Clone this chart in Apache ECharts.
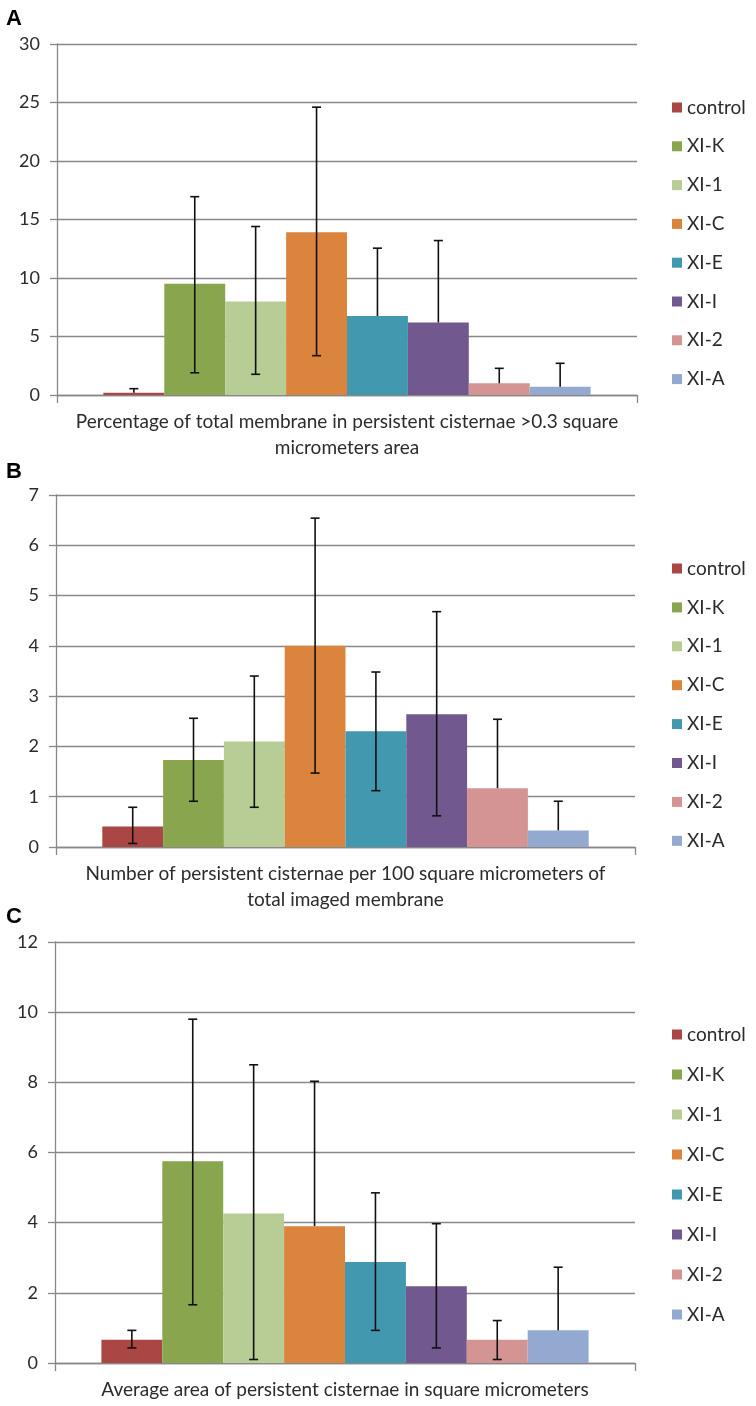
<!DOCTYPE html>
<html>
<head>
<meta charset="utf-8">
<script src="https://cdn.jsdelivr.net/npm/echarts@6/dist/echarts.min.js"></script>
<style>
  html, body { margin: 0; padding: 0; background: #fff; }
  #chart { width: 756px; height: 1406px; }
</style>
</head>
<body>
<div id="chart"></div>
<script>
// ---------------- data ----------------
const groups = ['control', 'XI-K', 'XI-1', 'XI-C', 'XI-E', 'XI-I', 'XI-2', 'XI-A'];

const categoriesA = ['Percentage of total membrane in persistent cisternae >0.3 square\nmicrometers area'];
const valuesA  = [0.2, 9.5, 8.0, 13.9, 6.75, 6.2, 1.0, 0.71];
const errHighA = [0.54, 16.95, 14.4, 24.6, 12.55, 13.2, 2.28, 2.71];
const errLowA  = [null, 1.9, 1.77, 3.36, null, null, null, null];
const ticksA   = { min: 0, max: 30, interval: 5 };

const categoriesB = ['Number of persistent cisternae per 100 square micrometers of\ntotal imaged membrane'];
const valuesB  = [0.41, 1.73, 2.10, 4.0, 2.30, 2.64, 1.17, 0.33];
const errHighB = [0.79, 2.56, 3.40, 6.54, 3.48, 4.68, 2.54, 0.91];
const errLowB  = [0.07, 0.91, 0.79, 1.47, 1.12, 0.62, null, null];
const ticksB   = { min: 0, max: 7, interval: 1 };

const categoriesC = ['Average area of persistent cisternae in square micrometers'];
const valuesC  = [0.66, 5.75, 4.26, 3.9, 2.88, 2.19, 0.66, 0.93];
const errHighC = [0.93, 9.8, 8.5, 8.03, 4.85, 3.97, 1.21, 2.73];
const errLowC  = [0.43, 1.66, 0.1, null, 0.93, 0.43, 0.1, null];
const ticksC   = { min: 0, max: 12, interval: 2 };

const panelLetters = ['A', 'B', 'C'];

// ---------------- styles ----------------
const colors = ['#AA4643', '#89A54E', '#B8CD96', '#DB843D', '#4198AF', '#71588F', '#D39493', '#93A9CF'];
const FONT = 'Lato';
const GRID_COLOR = '#888888';
const TEXT_COLOR = '#2b2b2b';
const CAT_GAP = 0.16;

const panels = [
  { cats: categoriesA, vals: valuesA, hi: errHighA, lo: errLowA, ticks: ticksA,
    grid: { left: 57, right: 119, top: 44, bottom: 1011 },
    legend: { top: 93, itemGap: 19.8 }, letterTop: 8 },
  { cats: categoriesB, vals: valuesB, hi: errHighB, lo: errLowB, ticks: ticksB,
    grid: { left: 56, right: 121, top: 495, bottom: 559 },
    legend: { top: 554, itemGap: 19.9 }, letterTop: 461 },
  { cats: categoriesC, vals: valuesC, hi: errHighC, lo: errLowC, ticks: ticksC,
    grid: { left: 55, right: 121, top: 942, bottom: 43 },
    legend: { top: 1020, itemGap: 21 }, letterTop: 906 }
];

const grids = [], xAxes = [], yAxes = [], series = [], legends = [], graphics = [];

panels.forEach((p, pi) => {
  grids.push(Object.assign({ containLabel: false }, p.grid));
  xAxes.push({
    type: 'category', gridIndex: pi, data: p.cats,
    axisLine: { lineStyle: { color: GRID_COLOR, width: 1.3 } },
    axisTick: { show: true, length: 8, lineStyle: { color: GRID_COLOR, width: 1.3 } },
    axisLabel: { interval: 0, margin: 14, fontFamily: FONT, fontSize: 19, lineHeight: 26, color: TEXT_COLOR }
  });
  yAxes.push({
    type: 'value', gridIndex: pi, min: p.ticks.min, max: p.ticks.max, interval: p.ticks.interval,
    axisLine: { show: true, lineStyle: { color: GRID_COLOR, width: 1.3 } },
    axisTick: { show: true, length: 7, lineStyle: { color: GRID_COLOR, width: 1.3 } },
    splitLine: { show: true, lineStyle: { color: GRID_COLOR, width: 1.3 } },
    axisLabel: { margin: 17, fontFamily: FONT, fontSize: 18, color: TEXT_COLOR }
  });
  groups.forEach((g, i) => {
    series.push({
      type: 'bar', name: g, xAxisIndex: pi, yAxisIndex: pi,
      data: [p.vals[i]], barGap: '0%', barCategoryGap: (CAT_GAP * 100) + '%',
      itemStyle: { color: colors[i] }, silent: true
    });
  });
  // error bars
  const errData = groups.map((g, i) => [0, p.vals[i], p.lo[i] == null ? p.vals[i] : p.lo[i], p.hi[i], i, p.lo[i] == null ? 0 : 1]);
  series.push({
    type: 'custom', xAxisIndex: pi, yAxisIndex: pi, z: 5, silent: true,
    data: errData,
    encode: { x: 0, y: [2, 3] },
    renderItem: function (params, api) {
      const idx = api.value(4);
      const band = api.size([1, 0])[0];
      const barW = band * (1 - CAT_GAP) / groups.length;
      const center = api.coord([0, 0])[0];
      const x = center - band * (1 - CAT_GAP) / 2 + (idx + 0.5) * barW;
      const yHi = api.coord([0, api.value(3)])[1];
      const yLo = api.coord([0, api.value(2)])[1];
      const st = { stroke: '#111', lineWidth: 1.6 };
      const cap = 4.5;
      const children = [
        { type: 'line', shape: { x1: x, y1: yLo, x2: x, y2: yHi }, style: st },
        { type: 'line', shape: { x1: x - cap, y1: yHi, x2: x + cap, y2: yHi }, style: st }
      ];
      if (api.value(5) === 1) {
        children.push({ type: 'line', shape: { x1: x - cap, y1: yLo, x2: x + cap, y2: yLo }, style: st });
      }
      return { type: 'group', children: children };
    }
  });
  legends.push({
    orient: 'vertical', left: 667, top: p.legend.top, itemGap: p.legend.itemGap,
    itemWidth: 10, itemHeight: 10, icon: 'rect', selectedMode: false,
    data: groups,
    textStyle: { fontFamily: FONT, fontSize: 19, lineHeight: 18, color: TEXT_COLOR }
  });
  graphics.push({
    type: 'text', left: 6, top: p.letterTop,
    style: { text: panelLetters[pi], font: 'bold 22px "Liberation Sans", Arial, sans-serif', fill: '#000' }
  });
});

const chart = echarts.init(document.getElementById('chart'), null, { renderer: 'canvas' });
chart.setOption({
  backgroundColor: '#ffffff',
  animation: false,
  grid: grids, xAxis: xAxes, yAxis: yAxes,
  legend: legends, series: series, graphic: graphics
});
</script>
</body>
</html>
